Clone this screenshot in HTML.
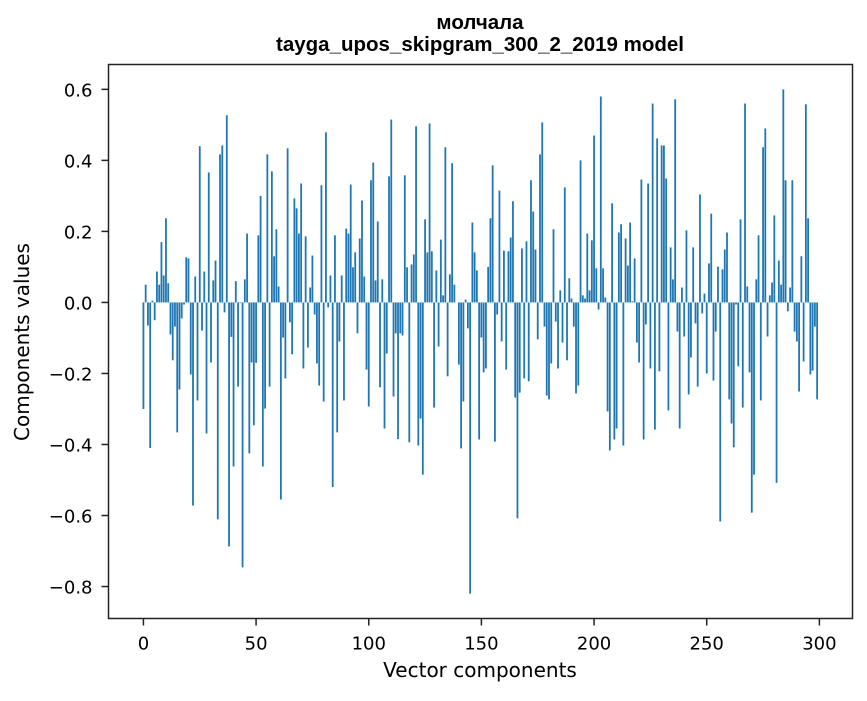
<!DOCTYPE html>
<html><head><meta charset="utf-8"><style>
body{margin:0;background:#fff;}
svg text{font-family:"DejaVu Sans","Liberation Sans",sans-serif;fill:#000;}
svg text.title{font-family:"Liberation Sans","DejaVu Sans",sans-serif;}
</style></head><body>
<svg width="867" height="696" viewBox="0 0 867 696">
<text class="title" x="480" y="29" text-anchor="middle" font-size="20.5" font-weight="bold">молчала</text>
<text class="title" x="480" y="51" text-anchor="middle" font-size="20.5" font-weight="bold">tayga_upos_skipgram_300_2_2019 model</text>
<g id="bars"></g>
<g id="axes"></g>
<rect x="108.5" y="64.5" width="744" height="554" fill="none" stroke="#222" stroke-width="1.5"/>
<text x="480" y="677" text-anchor="middle" font-size="20">Vector components</text>
<text transform="translate(29,342) rotate(-90)" text-anchor="middle" font-size="20">Components values</text>
</svg>
<script>
const values = [
-0.30,0.05,-0.065,-0.41,0.005,-0.05,0.087,0.05,0.17,0.076,
0.237,0.054,-0.09,-0.163,-0.068,-0.366,-0.245,-0.045,-0.006,0.127,
0.124,-0.203,-0.572,0.073,-0.276,0.44,-0.079,0.087,-0.369,0.366,
-0.169,0.062,0.118,-0.611,0.417,0.442,-0.028,0.527,-0.687,-0.097,
-0.462,0.06,-0.237,-0.002,-0.746,0.065,0.194,-0.425,-0.169,-0.346,
-0.17,0.189,0.30,-0.462,-0.299,0.417,-0.237,0.369,0.13,0.206,
0.045,-0.555,-0.099,-0.214,0.434,-0.056,-0.146,0.293,0.265,0.194,
0.335,-0.186,0.186,-0.127,0.042,0.132,-0.034,-0.172,-0.234,0.33,
-0.279,0.479,-0.014,0.076,-0.52,0.189,-0.366,-0.11,0.076,-0.276,
0.208,0.194,0.332,0.099,0.141,-0.087,0.18,0.287,0.073,-0.189,
-0.293,0.344,0.394,0.062,0.228,-0.239,0.065,-0.355,-0.144,0.355,
0.515,-0.265,-0.087,-0.385,-0.087,-0.093,0.358,0.099,-0.394,0.107,
0.135,0.496,-0.403,-0.327,-0.485,0.234,0.141,0.504,0.144,-0.296,
0.09,-0.124,0.177,0.02,0.437,-0.208,0.079,0.392,0.05,0.0,
-0.175,-0.411,-0.279,0.008,-0.073,-0.82,0.225,0.141,0.09,-0.386,
-0.099,-0.197,-0.186,0.1,0.237,0.386,-0.392,-0.034,0.315,-0.11,
0.146,-0.189,0.144,0.183,0.285,-0.268,-0.608,-0.254,0.152,-0.214,
0.172,-0.222,0.344,0.256,0.149,-0.104,0.417,0.507,-0.068,-0.262,
-0.273,-0.172,0.206,-0.054,-0.186,0.034,-0.113,0.324,-0.163,0.068,
0.011,-0.068,-0.256,-0.234,0.4,0.02,0.011,0.194,0.034,0.175,
0.47,0.096,-0.02,0.58,0.096,0.014,-0.307,-0.417,0.279,-0.386,
-0.355,0.197,0.22,-0.403,0.18,0.104,0.225,0.003,0.124,-0.113,
-0.169,0.346,-0.386,-0.062,0.335,-0.186,0.56,-0.358,0.462,-0.194,
0.442,0.442,0.349,-0.304,0.155,0.065,0.572,-0.082,-0.355,0.042,
-0.096,0.203,-0.259,-0.155,0.155,-0.059,-0.237,0.304,-0.031,0.025,
-0.2,0.11,0.25,-0.22,-0.082,0.101,-0.617,0.093,0.149,0.197,
-0.273,-0.341,-0.408,-0.006,-0.18,0.234,-0.296,0.56,0.045,-0.197,
-0.592,-0.485,0.065,0.189,-0.276,0.437,0.49,-0.096,0.02,0.056,
0.245,-0.508,0.118,0.05,0.6,0.344,-0.025,0.042,0.344,-0.082,
-0.11,-0.251,0.13,-0.166,0.558,0.237,-0.203,-0.192,-0.068,-0.273
];
const xTicks = [0,50,100,150,200,250,300];
const yTicks = [-0.8,-0.6,-0.4,-0.2,0.0,0.2,0.4,0.6];
const yTickLabels = ["\u22120.8","\u22120.6","\u22120.4","\u22120.2","0.0","0.2","0.4","0.6"];

const NS="http://www.w3.org/2000/svg";
const L=108.5,R=852.5,T=64.5,B=618.5;
const xMin=-15.5,xMax=314.7,yMin=-0.890,yMax=0.670;
function xs(v){return L+(v-xMin)/(xMax-xMin)*(R-L);}
function ys(v){return B-(v-yMin)/(yMax-yMin)*(B-T);}
const bars=document.getElementById('bars');
values.forEach((v,i)=>{
  const r=document.createElementNS(NS,'rect');
  const x0=xs(i-0.4),x1=xs(i+0.4);
  const y0=ys(Math.max(v,0)),y1=ys(Math.min(v,0));
  r.setAttribute('x',x0);r.setAttribute('width',x1-x0);
  r.setAttribute('y',y0);r.setAttribute('height',Math.max(y1-y0,0.01));
  r.setAttribute('fill','#1f77b4');
  
  
  bars.appendChild(r);
});
const axes=document.getElementById('axes');
xTicks.forEach(t=>{
  const x=xs(t);
  const l=document.createElementNS(NS,'line');
  l.setAttribute('x1',x);l.setAttribute('x2',x);l.setAttribute('y1',B);l.setAttribute('y2',B+7);
  l.setAttribute('stroke','#222');l.setAttribute('stroke-width','1.5');
  
  
  axes.appendChild(l);
  const tx=document.createElementNS(NS,'text');
  tx.setAttribute('x',x);tx.setAttribute('y',B+31);tx.setAttribute('text-anchor','middle');tx.setAttribute('font-size','18');
  tx.textContent=String(t);
  
  
  axes.appendChild(tx);
});
yTicks.forEach((t,k)=>{
  const y=ys(t);
  const l=document.createElementNS(NS,'line');
  l.setAttribute('x1',L-7);l.setAttribute('x2',L);l.setAttribute('y1',y);l.setAttribute('y2',y);
  l.setAttribute('stroke','#222');l.setAttribute('stroke-width','1.5');
  
  
  axes.appendChild(l);
  const tx=document.createElementNS(NS,'text');
  tx.setAttribute('x',L-16);tx.setAttribute('y',y+7);tx.setAttribute('text-anchor','end');tx.setAttribute('font-size','18');
  tx.textContent=yTickLabels[k];
  
  
  axes.appendChild(tx);
});
</script>
</body></html>
